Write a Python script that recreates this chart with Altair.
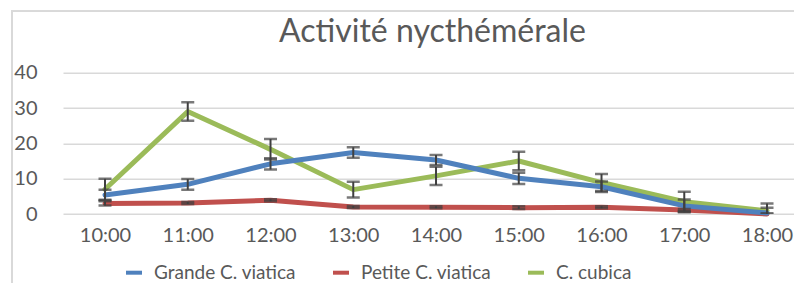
import altair as alt
import pandas as pd

hours = ["10:00", "11:00", "12:00", "13:00", "14:00", "15:00", "16:00", "17:00", "18:00"]
series_names = ["Grande C. viatica", "Petite C. viatica", "C. cubica"]
series_colors = ["#4F81BD", "#C0504D", "#9BBB59"]

grande = [5.4, 8.4, 14.2, 17.4, 15.3, 10.1, 7.7, 2.3, 0.3]
grande_err = [1.5, 1.5, 1.6, 1.5, 1.4, 1.6, 1.5, 1.8, 1.5]
petite = [3.0, 3.1, 3.9, 2.0, 1.9, 1.8, 1.9, 1.1, 0.0]
petite_err = [0.6, 0.3, 0.3, 0.3, 0.3, 0.4, 0.3, 0.3, 0.2]
cubica = [7.0, 29.0, 18.3, 6.9, 10.8, 15.0, 8.9, 3.5, 0.9]
cubica_err = [3.0, 2.6, 2.9, 2.2, 2.6, 2.6, 2.4, 2.8, 2.1]

rows = []
for name, vals, errs in [("Grande C. viatica", grande, grande_err),
                         ("Petite C. viatica", petite, petite_err),
                         ("C. cubica", cubica, cubica_err)]:
    for i, (v, e) in enumerate(zip(vals, errs)):
        rows.append({"series": name, "idx": i, "hour": hours[i], "value": v,
                     "lo": v - e, "hi": v + e})
df = pd.DataFrame(rows)

FONT = "Lato"
TXT = "#595959"

label_expr = "[" + ",".join("'%s'" % h for h in hours) + "][datum.value]"

x_scale = alt.Scale(domain=[-0.5076, 8.326], nice=False, zero=False)
x_axis = alt.Axis(values=list(range(len(hours))), labelExpr=label_expr,
                  grid=False, ticks=False, domain=False, title=None,
                  labelPadding=11, labelOverlap=False)
y_scale = alt.Scale(domain=[0, 40], nice=False)
y_axis = alt.Axis(values=[0, 10, 20, 30, 40], grid=True, ticks=False, domain=False,
                  title=None, labelPadding=26, labelOverlap=False)

x_enc = alt.X("idx:Q", scale=x_scale, axis=x_axis)

base = alt.Chart(df)

color_enc = alt.Color("series:N",
                      scale=alt.Scale(domain=series_names, range=series_colors),
                      legend=alt.Legend(orient="none", legendX=61, legendY=190,
                                        direction="horizontal", title=None,
                                        symbolType="stroke", symbolSize=256,
                                        symbolStrokeWidth=4, labelFontSize=19,
                                        labelFont=FONT, labelColor=TXT,
                                        columnPadding=28, labelOffset=10))

border = base.mark_rect(fill=None, stroke="#d9d9d9", strokeWidth=1.5).encode(
    x=alt.value(-51), x2=alt.value(780), y=alt.value(-61.5), y2=alt.value(216))

lines = []
for name in ["Petite C. viatica", "C. cubica", "Grande C. viatica"]:
    lines.append(base.transform_filter(alt.datum.series == name).mark_line(
        strokeWidth=5, strokeJoin="round", strokeCap="round").encode(
        x=x_enc,
        y=alt.Y("value:Q", scale=y_scale, axis=y_axis),
        color=color_enc))

rules = base.mark_rule(color="#404040", strokeWidth=2, clip=True).encode(
    x=x_enc, y=alt.Y("lo:Q", scale=y_scale, axis=y_axis), y2="hi:Q")
caps_lo = base.mark_tick(color="#404040", orient="horizontal", size=13, thickness=2.5,
                         clip=True).encode(
    x=x_enc, y=alt.Y("lo:Q", scale=y_scale, axis=y_axis))
caps_hi = base.mark_tick(color="#404040", orient="horizontal", size=13, thickness=2.5,
                         clip=True).encode(
    x=x_enc, y=alt.Y("hi:Q", scale=y_scale, axis=y_axis))

chart = alt.layer(border, *lines, rules, caps_lo, caps_hi).properties(
    width=731, height=141.3,
    title=alt.TitleParams("Activité nycthémérale", font=FONT, fontSize=32,
                          fontWeight="normal", color=TXT, anchor="middle",
                          dx=4, offset=-64, baseline="alphabetic"),
    autosize=alt.AutoSizeParams(type="none"),
    padding={"left": 55, "top": 64.7, "right": 0, "bottom": 69},
).configure_view(stroke=None).configure_axis(
    labelFont=FONT, labelFontSize=20, labelColor=TXT,
    gridColor="#d9d9d9", gridWidth=1.5,
)

chart.save("out.html", embed_options={"renderer": "svg", "actions": False})
